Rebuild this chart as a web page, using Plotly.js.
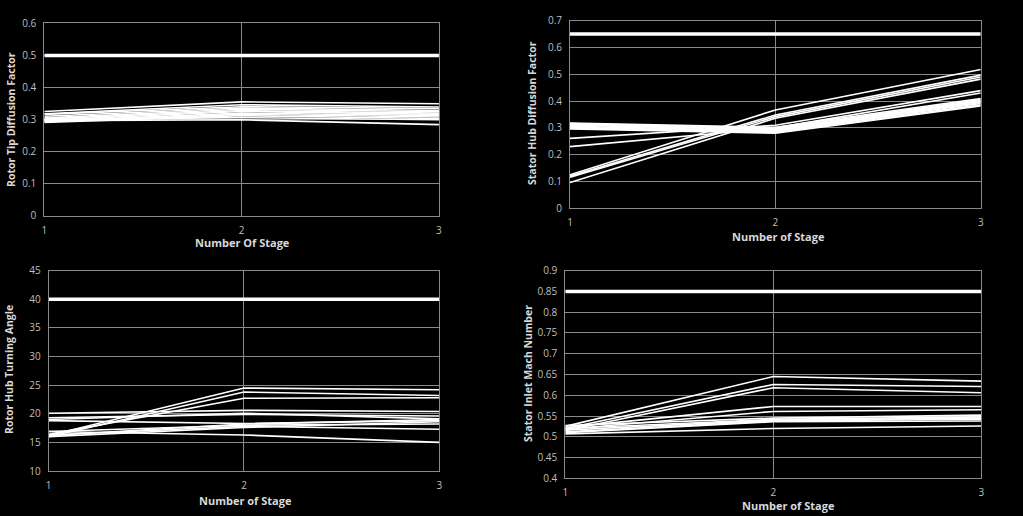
<!DOCTYPE html>
<html>
<head>
<meta charset="utf-8">
<script src="https://cdn.plot.ly/plotly-3.0.1.min.js"></script>
<style>html,body{margin:0;padding:0;background:#000;}#chart{width:1023px;height:516px;}</style>
</head>
<body>
<div id="chart"></div>
<script>
// Stage numbers (x axis)
const stages = [1, 2, 3];

// Panel 1: Rotor Tip Diffusion Factor
const rotorTipLimit = [0.5, 0.5, 0.5];
const rotorTipSeries = [
  [0.325, 0.355, 0.349],
  [0.318, 0.346, 0.339],
  [0.316, 0.340, 0.334],
  [0.310, 0.336, 0.328],
  [0.305, 0.332, 0.324],
  [0.302, 0.328, 0.320],
  [0.298, 0.325, 0.316],
  [0.295, 0.320, 0.312],
  [0.293, 0.316, 0.308],
  [0.291, 0.312, 0.303],
  [0.300, 0.306, 0.299],
  [0.296, 0.299, 0.284]
];

// Panel 2: Stator Hub Diffusion Factor
const statorHubLimit = [0.65, 0.65, 0.65];
const statorHubSeries = [
  [0.125, 0.367, 0.518],
  [0.120, 0.348, 0.497],
  [0.116, 0.342, 0.490],
  [0.096, 0.336, 0.482],
  [0.261, 0.310, 0.439],
  [0.230, 0.300, 0.430],
  [0.318, 0.302, 0.410],
  [0.316, 0.298, 0.406],
  [0.313, 0.295, 0.402],
  [0.310, 0.292, 0.399],
  [0.306, 0.289, 0.395],
  [0.302, 0.286, 0.391],
  [0.299, 0.283, 0.386],
  [0.296, 0.280, 0.382]
];

// Panel 3: Rotor Hub Turning Angle
const rotorHubLimit = [40, 40, 40];
const rotorHubSeries = [
  [16.2, 24.5, 24.2],
  [16.0, 23.8, 23.2],
  [16.4, 22.7, 22.8],
  [20.1, 20.6, 20.4],
  [19.3, 19.9, 19.6],
  [19.0, 20.1, 19.1],
  [18.8, 18.3, 18.8],
  [16.9, 18.0, 18.2],
  [16.3, 17.8, 17.3],
  [16.0, 17.6, 18.6],
  [16.9, 16.3, 15.0],
  [16.2, 18.2, 19.0]
];

// Panel 4: Stator Inlet Mach Number
const statorMachLimit = [0.85, 0.85, 0.85];
const statorMachSeries = [
  [0.525, 0.645, 0.634],
  [0.520, 0.626, 0.621],
  [0.515, 0.618, 0.606],
  [0.522, 0.573, 0.573],
  [0.518, 0.561, 0.565],
  [0.527, 0.545, 0.552],
  [0.520, 0.542, 0.548],
  [0.516, 0.540, 0.545],
  [0.512, 0.538, 0.542],
  [0.510, 0.536, 0.538],
  [0.507, 0.520, 0.526]
];

// Axis texts
const xTitles = ['Number Of Stage', 'Number of Stage', 'Number of Stage', 'Number of Stage'];
const yTitles = ['Rotor Tip Diffusion Factor', 'Stator Hub Diffusion Factor', 'Rotor Hub Turning Angle', 'Stator Inlet Mach Number'];
const yRanges = [[0, 0.6], [0, 0.7], [10, 45], [0.4, 0.9]];
const yDtick = [0.1, 0.1, 5, 0.05];

const panels = [
  {series: rotorTipSeries, limit: rotorTipLimit},
  {series: statorHubSeries, limit: statorHubLimit},
  {series: rotorHubSeries, limit: rotorHubLimit},
  {series: statorMachSeries, limit: statorMachLimit}
];

const W = 1023, H = 516;
const xDomains = [[0.0433, 0.4291], [0.5572, 0.9587], [0.0476, 0.4294], [0.5526, 0.9592]];
const yDomains = [[0.582, 0.9548], [0.5963, 0.9599], [0.0872, 0.4754], [0.0731, 0.4754]];
// title positions in pixels (centre)
const xTitlePos = [[242, 243], [778, 237], [245, 500], [788, 505]];
const yTitlePos = [[11, 120], [532, 113], [9, 370], [528, 374]];

const traces = [];
const annotations = [];
const layout = {
  width: W, height: H,
  paper_bgcolor: '#000', plot_bgcolor: '#000',
  margin: {l: 0, r: 0, t: 0, b: 0},
  showlegend: false,
  font: {family: 'Open Sans, Liberation Sans, sans-serif', color: '#d9d9d9', size: 10}
};

const gridCol = '#8a8a8a';
panels.forEach((p, i) => {
  const xa = i === 0 ? 'x' : 'x' + (i + 1);
  const ya = i === 0 ? 'y' : 'y' + (i + 1);
  p.series.forEach(s => {
    traces.push({x: stages, y: s, xaxis: xa, yaxis: ya, type: 'scatter', mode: 'lines',
      line: {color: '#ffffff', width: 1.6}, hoverinfo: 'skip'});
  });
  traces.push({x: stages, y: p.limit, xaxis: xa, yaxis: ya, type: 'scatter', mode: 'lines',
    line: {color: '#ffffff', width: 3.5}, hoverinfo: 'skip'});
  const xKey = i === 0 ? 'xaxis' : 'xaxis' + (i + 1);
  const yKey = i === 0 ? 'yaxis' : 'yaxis' + (i + 1);
  layout[xKey] = {
    domain: xDomains[i], anchor: ya, range: [1, 3], tickvals: stages, ticktext: stages.map(String),
    showgrid: true, gridcolor: gridCol, gridwidth: 1, zeroline: false,
    showline: true, linecolor: gridCol, linewidth: 1, mirror: true, ticks: '',
    ticklabelstandoff: 5,
    tickfont: {size: 10, color: '#bfbfbf'}
  };
  layout[yKey] = {
    domain: yDomains[i], anchor: xa, range: yRanges[i], dtick: yDtick[i], tick0: yRanges[i][0],
    showgrid: true, gridcolor: gridCol, gridwidth: 1, zeroline: false,
    showline: true, linecolor: gridCol, linewidth: 1, mirror: true, ticks: '',
    ticklabelstandoff: 5,
    tickfont: {size: 10, color: '#bfbfbf'}
  };
  annotations.push({text: '<b>' + xTitles[i] + '</b>', xref: 'paper', yref: 'paper',
    x: xTitlePos[i][0] / W, y: 1 - xTitlePos[i][1] / H, xanchor: 'center', yanchor: 'middle',
    showarrow: false, font: {size: 11, color: '#d9d9d9'}});
  annotations.push({text: '<b>' + yTitles[i] + '</b>', xref: 'paper', yref: 'paper', textangle: -90,
    x: yTitlePos[i][0] / W, y: 1 - yTitlePos[i][1] / H, xanchor: 'center', yanchor: 'middle',
    showarrow: false, font: {size: 10.5, color: '#d9d9d9'}});
});
layout.annotations = annotations;

Plotly.newPlot('chart', traces, layout, {staticPlot: true});
</script>
</body>
</html>
